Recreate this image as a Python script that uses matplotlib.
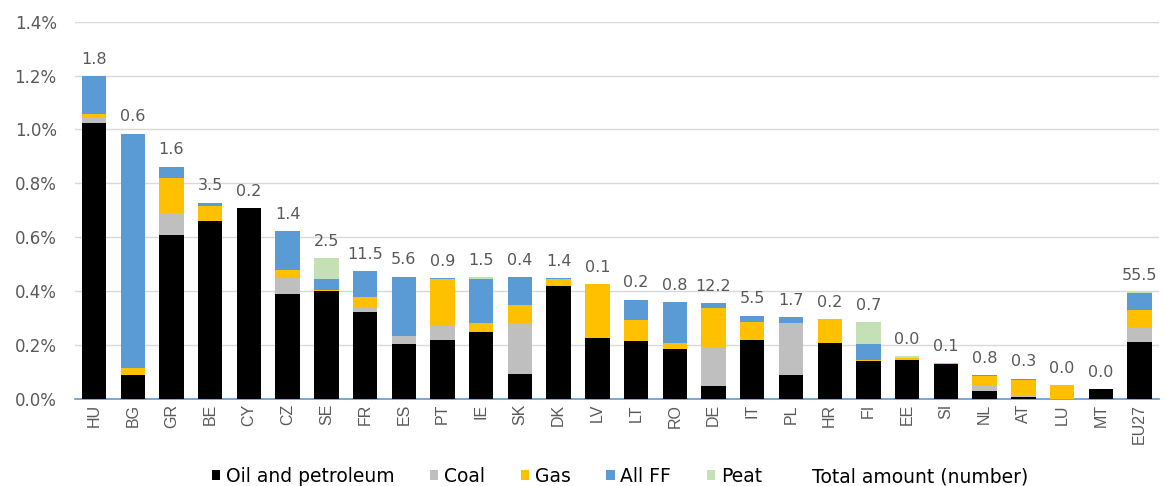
import numpy as np
import matplotlib
matplotlib.use("Agg")
import matplotlib.pyplot as plt
from matplotlib.patches import Patch

plt.rcParams['font.family'] = ['DejaVu Sans']

countries = ["HU", "BG", "GR", "BE", "CY", "CZ", "SE", "FR", "ES", "PT", "IE", "SK", "DK", "LV",
             "LT", "RO", "DE", "IT", "PL", "HR", "FI", "EE", "SI", "NL", "AT", "LU", "MT", "EU27"]

# shares in %
oil = [1.025, 0.086, 0.609, 0.659, 0.707, 0.388, 0.399, 0.320, 0.202, 0.216, 0.246, 0.090, 0.4175, 0.226,
       0.213, 0.184, 0.045, 0.218, 0.086, 0.206, 0.140, 0.143, 0.128, 0.029, 0.006, 0.0, 0.035, 0.209]
coal = [0.022, 0.0, 0.082, 0.0, 0.0, 0.059, 0.0, 0.016, 0.029, 0.054, 0.0, 0.190, 0.0, 0.0,
        0.0, 0.0, 0.146, 0.0, 0.194, 0.0, 0.0, 0.0, 0.0, 0.020, 0.006, 0.0, 0.0, 0.054]
gas = [0.011, 0.029, 0.130, 0.056, 0.0, 0.031, 0.003, 0.043, 0.0, 0.176, 0.035, 0.0675, 0.0275, 0.198,
       0.077, 0.024, 0.144, 0.066, 0.0, 0.089, 0.005, 0.009, 0.004, 0.035, 0.058, 0.050, 0.0, 0.067]
all_ff = [0.142, 0.870, 0.041, 0.013, 0.0, 0.145, 0.041, 0.095, 0.222, 0.003, 0.164, 0.105, 0.004, 0.0,
          0.078, 0.152, 0.019, 0.024, 0.024, 0.0, 0.057, 0.0, 0.0, 0.004, 0.004, 0.0, 0.0, 0.0625]
peat = [0.0, 0.0, 0.0, 0.0, 0.0, 0.0, 0.079, 0.0, 0.0, 0.0, 0.007, 0.0, 0.0, 0.0,
        0.0, 0.0, 0.0, 0.0, 0.0, 0.0, 0.083, 0.006, 0.0, 0.0, 0.0, 0.0, 0.0, 0.004]
total_amount = [1.8, 0.6, 1.6, 3.5, 0.2, 1.4, 2.5, 11.5, 5.6, 0.9, 1.5, 0.4, 1.4, 0.1,
                0.2, 0.8, 12.2, 5.5, 1.7, 0.2, 0.7, 0.0, 0.1, 0.8, 0.3, 0.0, 0.0, 55.5]

series = [
    ("Oil and petroleum", oil, "#000000"),
    ("Coal", coal, "#BFBFBF"),
    ("Gas", gas, "#FFC000"),
    ("All FF", all_ff, "#5B9BD5"),
    ("Peat", peat, "#C5E0B4"),
]

fig = plt.figure(figsize=(11.67, 4.86), dpi=100)
ax = fig.add_axes([0.064, 0.18, 0.929, 0.775])

x = np.arange(len(countries))
bottom = np.zeros(len(countries))
handles = []
for name, vals, col in series:
    vals = np.array(vals)
    ax.bar(x, vals, 0.63, bottom=bottom, color=col, edgecolor="none", zorder=3)
    bottom += vals
    handles.append(Patch(facecolor=col, label=name))
handles.append(Patch(facecolor="none", edgecolor="none", label="Total amount (number)"))

# total amount written above each bar
for xi, top, t in zip(x, bottom, total_amount):
    ax.annotate(f"{t:.1f}", (xi, top), xytext=(0, 12), textcoords="offset points",
                ha="center", va="center", fontsize=11.5, color="#595959")

ax.set_xlim(-0.5, len(countries) - 0.5)
ax.set_ylim(0, 1.4)
yt = np.arange(0, 1.41, 0.2)
ax.set_yticks(yt)
ax.set_yticklabels([f"{v:.1f}%" for v in yt], fontsize=12, color="#595959")
ax.set_xticks(x)
ax.set_xticklabels(countries, rotation=90, fontsize=11.5, color="#595959",
                   family="Liberation Sans")
ax.tick_params(axis="y", length=0, pad=13)
ax.tick_params(axis="x", length=0, pad=4)
ax.yaxis.grid(True, color="#D9D9D9", linewidth=1, zorder=0)
for s in ["left", "right", "top"]:
    ax.spines[s].set_visible(False)
ax.spines["bottom"].set_color("#5B9BD5")
ax.spines["bottom"].set_linewidth(1.2)

fig.legend(handles=handles, loc="lower center", bbox_to_anchor=(0.531, -0.035), ncol=6,
           frameon=False, fontsize=13.5, handlelength=0.45, handleheight=0.45,
           handletextpad=0.3, columnspacing=1.9)

plt.savefig("out.png", dpi=100)
